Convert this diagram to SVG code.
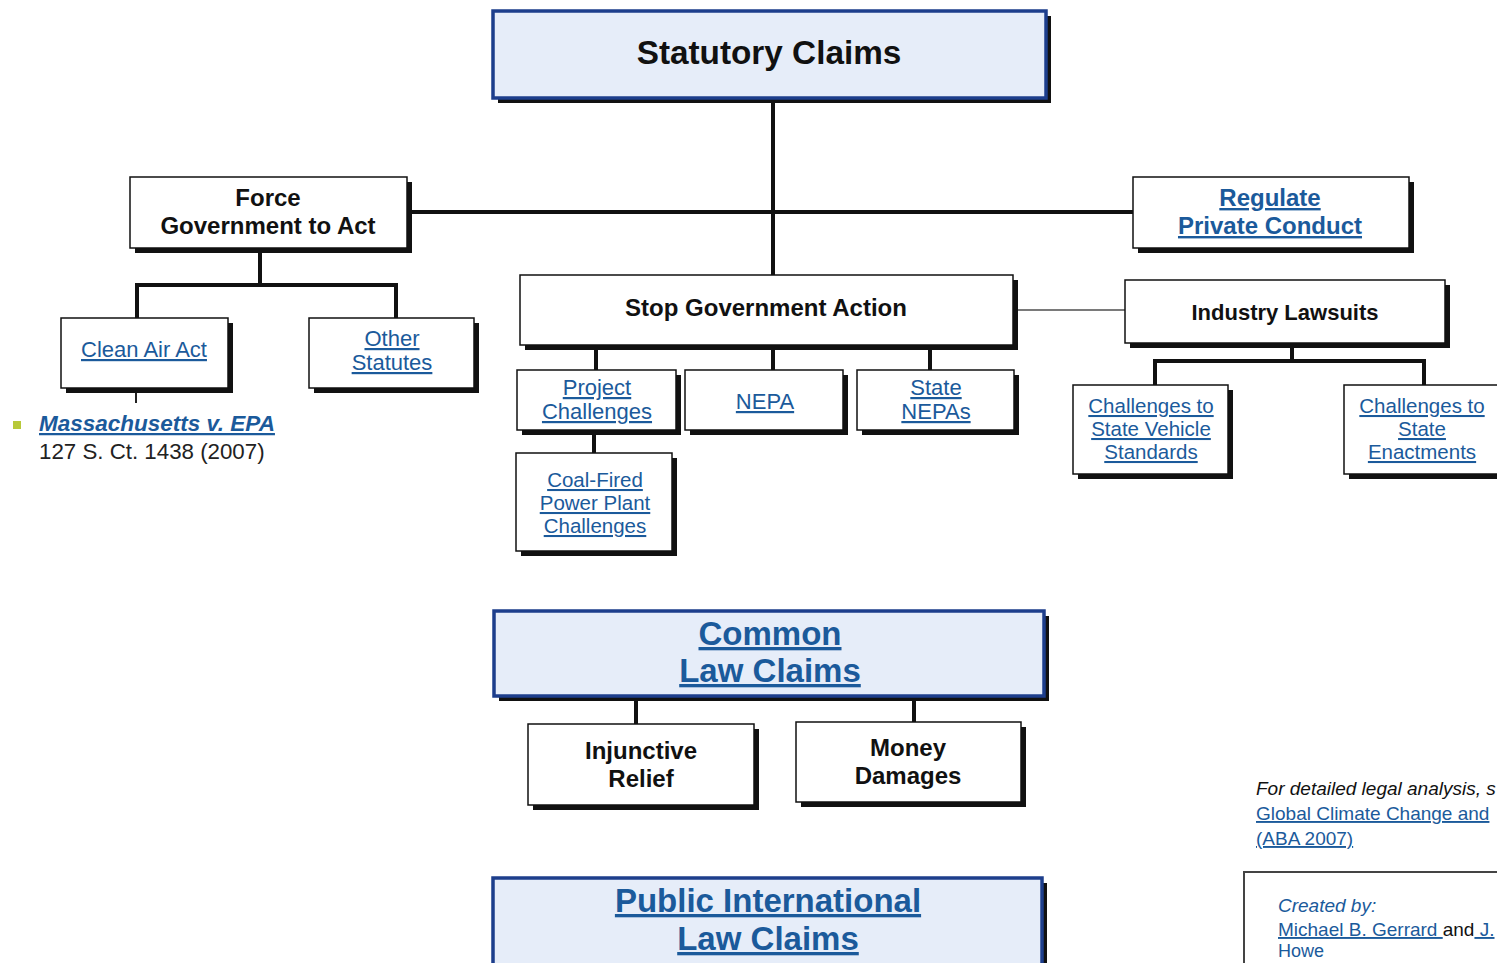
<svg xmlns="http://www.w3.org/2000/svg" width="1497" height="963" viewBox="0 0 1497 963">
<style>
.bg{fill:#ffffff}
.sh{fill:#111111}
.box{fill:#ffffff;stroke:#111111;stroke-width:1.5}
.bbox{fill:#e6edf9;stroke:#1d3e8c;stroke-width:3.5}
.t{font-family:"Liberation Sans",Arial,sans-serif;fill:#111111;text-anchor:middle}
.b{font-weight:bold}
.lk{fill:#1b5a9b;text-decoration:underline;text-decoration-thickness:2.5px}
.c{stroke:#111111;stroke-width:4;fill:none}
.cg{stroke:#7a7a7a;stroke-width:2;fill:none}
.cs{stroke:#222222;stroke-width:2;fill:none}
</style>
<rect class="bg" x="0" y="0" width="1497" height="963"/>
<g id="connectors">
<path class="c" d="M773,98 V275"/>
<path class="c" d="M407,212 H1133"/>
<path class="c" d="M260,248 V285 M136,285 H397 M137,283 V318 M396,283 V318"/>
<path class="cs" d="M136,390 V403"/>
<path class="cg" d="M1015,310 H1125"/>
<path class="c" d="M596,347 V370 M773,347 V370 M930,347 V370"/>
<path class="c" d="M594,432 V453"/>
<path class="c" d="M1292,345 V361 M1155,361 H1424 M1155,359 V385 M1424,359 V385"/>
<path class="c" d="M636,698 V724 M914,698 V722"/>
</g>
<g id="statutory">
<rect class="sh" x="498" y="16" width="553" height="87"/>
<rect class="bbox" x="493" y="11" width="553" height="87"/>
<text class="t b" x="769" y="64" font-size="33.3">Statutory Claims</text>
</g>
<g id="force">
<rect class="sh" x="135" y="182" width="277" height="71"/>
<rect class="box" x="130" y="177" width="277" height="71"/>
<text class="t b" x="268" y="206" font-size="24">Force<tspan x="268" dy="28">Government to Act</tspan></text>
</g>
<g id="regulate">
<rect class="sh" x="1138" y="182" width="276" height="71"/>
<rect class="box" x="1133" y="177" width="276" height="71"/>
<text class="t b lk" x="1270" y="206" font-size="24">Regulate<tspan x="1270" dy="28">Private Conduct</tspan></text>
</g>
<g id="clean-air-act">
<rect class="sh" x="66" y="323" width="167" height="70"/>
<rect class="box" x="61" y="318" width="167" height="70"/>
<text class="t lk" x="144" y="357" font-size="22">Clean Air Act</text>
</g>
<g id="other-statutes">
<rect class="sh" x="314" y="323" width="165" height="70"/>
<rect class="box" x="309" y="318" width="165" height="70"/>
<text class="t lk" x="392" y="346" font-size="22">Other<tspan x="392" dy="24">Statutes</tspan></text>
</g>
<g id="massachusetts">
<rect x="13" y="421" width="8" height="8" fill="#b8c93a"/>
<text class="t b lk" x="39" y="431" font-size="22.5" font-style="italic" style="text-anchor:start">Massachusetts v. EPA</text>
<text class="t" x="39" y="459" font-size="22.3" style="text-anchor:start;fill:#222222">127 S. Ct. 1438 (2007)</text>
</g>
<g id="stop">
<rect class="sh" x="525" y="280" width="493" height="70"/>
<rect class="box" x="520" y="275" width="493" height="70"/>
<text class="t b" x="766" y="316" font-size="24">Stop Government Action</text>
</g>
<g id="industry">
<rect class="sh" x="1130" y="285" width="320" height="63"/>
<rect class="box" x="1125" y="280" width="320" height="63"/>
<text class="t b" x="1285" y="320" font-size="22">Industry Lawsuits</text>
</g>
<g id="project">
<rect class="sh" x="522" y="375" width="159" height="60"/>
<rect class="box" x="517" y="370" width="159" height="60"/>
<text class="t lk" x="597" y="395" font-size="22">Project<tspan x="597" dy="24">Challenges</tspan></text>
</g>
<g id="nepa">
<rect class="sh" x="690" y="375" width="158" height="60"/>
<rect class="box" x="685" y="370" width="158" height="60"/>
<text class="t lk" x="765" y="409" font-size="22">NEPA</text>
</g>
<g id="state-nepas">
<rect class="sh" x="862" y="375" width="157" height="60"/>
<rect class="box" x="857" y="370" width="157" height="60"/>
<text class="t lk" x="936" y="395" font-size="22">State<tspan x="936" dy="24">NEPAs</tspan></text>
</g>
<g id="coal">
<rect class="sh" x="521" y="458" width="156" height="98"/>
<rect class="box" x="516" y="453" width="156" height="98"/>
<text class="t lk" x="595" y="487" font-size="20.5">Coal-Fired<tspan x="595" dy="23">Power Plant</tspan><tspan x="595" dy="23">Challenges</tspan></text>
</g>
<g id="vehicle">
<rect class="sh" x="1078" y="390" width="155" height="89"/>
<rect class="box" x="1073" y="385" width="155" height="89"/>
<text class="t lk" x="1151" y="413" font-size="20.5">Challenges to<tspan x="1151" dy="23">State Vehicle</tspan><tspan x="1151" dy="23">Standards</tspan></text>
</g>
<g id="enactments">
<rect class="sh" x="1349" y="390" width="156" height="89"/>
<rect class="box" x="1344" y="385" width="156" height="89"/>
<text class="t lk" x="1422" y="413" font-size="20.5">Challenges to<tspan x="1422" dy="23">State</tspan><tspan x="1422" dy="23">Enactments</tspan></text>
</g>
<g id="common">
<rect class="sh" x="499" y="616" width="550" height="85"/>
<rect class="bbox" x="494" y="611" width="550" height="85"/>
<text class="t b lk" x="770" y="645" font-size="33" style="text-decoration-thickness:4px">Common<tspan x="770" dy="37">Law Claims</tspan></text>
</g>
<g id="injunctive">
<rect class="sh" x="533" y="729" width="226" height="81"/>
<rect class="box" x="528" y="724" width="226" height="81"/>
<text class="t b" x="641" y="759" font-size="24">Injunctive<tspan x="641" dy="28">Relief</tspan></text>
</g>
<g id="money">
<rect class="sh" x="801" y="727" width="225" height="80"/>
<rect class="box" x="796" y="722" width="225" height="80"/>
<text class="t b" x="908" y="756" font-size="24">Money<tspan x="908" dy="28">Damages</tspan></text>
</g>
<g id="public">
<rect class="sh" x="498" y="883" width="549" height="90"/>
<rect class="bbox" x="493" y="878" width="549" height="90"/>
<text class="t b lk" x="768" y="912" font-size="33" style="text-decoration-thickness:4px">Public International<tspan x="768" dy="38">Law Claims</tspan></text>
</g>
<g id="analysis">
<text class="t" x="1256" y="795" font-size="19" font-style="italic" style="text-anchor:start">For detailed legal analysis, s</text>
<text class="t lk" x="1256" y="820" font-size="19" style="text-anchor:start;text-decoration-thickness:2px">Global Climate Change and </text>
<text class="t lk" x="1256" y="845" font-size="19" style="text-anchor:start;text-decoration-thickness:2px">(ABA 2007)</text>
</g>
<g id="created">
<rect x="1244" y="872" width="262" height="100" fill="#ffffff" stroke="#444444" stroke-width="2"/>
<text class="t" x="1278" y="912" font-size="19" font-style="italic" style="text-anchor:start;fill:#1b5a9b">Created by:</text>
<text class="t" x="1278" y="936" font-size="19" style="text-anchor:start"><tspan class="lk" style="text-decoration-thickness:2px">Michael B. Gerrard </tspan>and<tspan class="lk" style="text-decoration-thickness:2px"> J.</tspan></text>
<text class="t" x="1278" y="957" font-size="18" style="text-anchor:start;fill:#1b5a9b">Howe</text>
</g>
</svg>
